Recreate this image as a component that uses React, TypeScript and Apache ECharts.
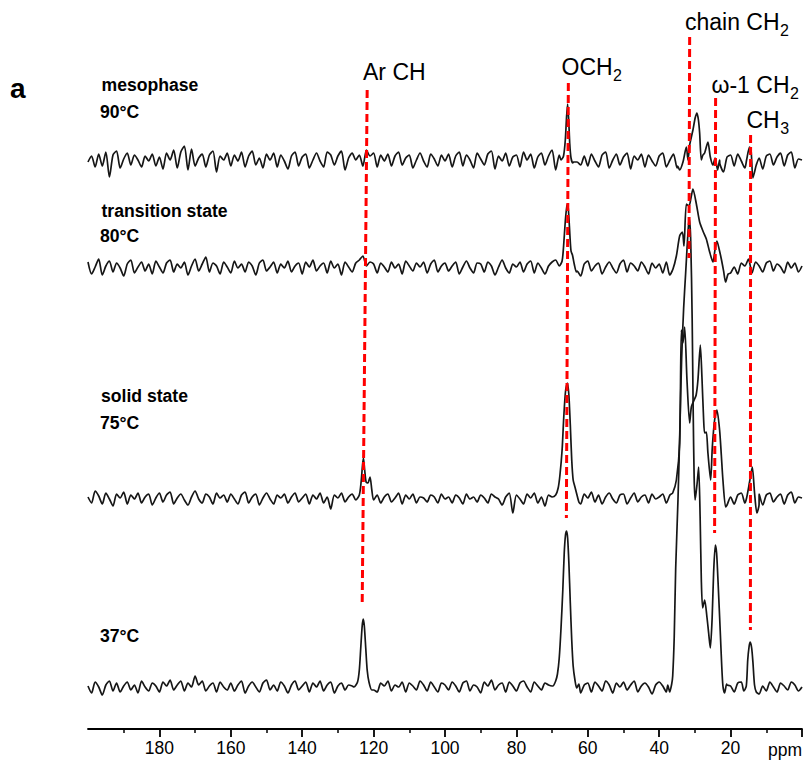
import React, { useEffect, useRef } from 'react';
import * as echarts from 'echarts';

const FONT = '"Liberation Sans", Arial, Helvetica, sans-serif';

// x axis (ppm, reversed)
const X_MIN = 0;
const X_MAX = 200;
const TICK_VALUES = [0, 20, 40, 60, 80, 100, 120, 140, 160, 180];
const LABEL_VALUES = [20, 40, 60, 80, 100, 120, 140, 160, 180];

// vertical offsets of the stacked spectra (arbitrary intensity units)
const TRACE_NAMES = ['90°C', '80°C', '75°C', '37°C'];
const TRACE_OFFSETS = [567, 460, 229, 41];

// baseline noise, one value per ppm from 200 down to 0
const NOISE_90 = [
  0, 6, -5, 8, -4, 10, -15, 7, 11, -6, 3, 9, -3, 7, 2, -5, 6, 1, 8, -4,
  5, -7, 9, 2, 12, -6, 10, 16, -8, 13, -4, 4, 8, -5, 7, 11, -10, 6, 2, 9,
  -4, 7, 1, 10, -5, 6, 11, -3, 4, -6, 8, 2, 9, -5, 7, 1, -7, 6, 10, -4,
  5, 8, -6, 2, 9, 1, -5, 10, 7, -3, 6, 11, -8, 4, 9, 2, 7, -4, 12, 6,
  9, -5, 7, 1, 8, -4, 6, 10, -3, 4, 7, -6, 2, 9, 1, -5, 8, 3, -4, 7,
  1, 8, -5, 6, 10, -4, 7, 2, -6, 9, 3, -3, 8, 11, -7, 6, 1, 9, -4, 5,
  7, -5, 10, 2, 8, -6, 5, 9, -3, 6, 12, -8, 7, 2, 4, 0, 0, 0, -3, 6,
  -4, 8, 1, -5, 7, 10, -6, 2, 8, -3, 5, 9, -7, 6, 2, 8, -5, 7, 1, -4,
  6, 9, -5, 2, 8, -6, 0, 0, 0, 0, 0, 0, 0, 0, 0, 0, 0, -2, -10, 5,
  7, -4, 8, 1, -6, 0, 0, 0, 4, -7, 6, 8, -3, 5, 9, -4, 7, 10, -6, 3,
  2,
];
const NOISE_80 = [
  7, -5, 2, 10, -6, 3, 8, -3, 6, 1, -7, 5, 9, -4, 2, 7, -2, 5, -5, 8,
  2, -4, 6, 9, -3, 5, 1, 7, -6, 3, 10, -2, 5, 12, -3, 6, 3, -5, 7, 2,
  -4, 8, 1, 5, -3, 7, 3, -6, 6, 9, -2, 2, 7, -4, 5, 1, 8, -3, 3, 6,
  -5, 7, 2, 9, -2, 3, 6, -4, 8, 1, 5, -6, 7, 2, -3, 6, 9, 13, 3, 7,
  5, -4, 6, 2, -3, 7, 1, 5, -5, 8, 3, -2, 6, 2, 7, -4, 5, 9, -3, 3,
  6, -2, 3, 7, -5, 2, 8, 1, -4, 6, 5, -3, 7, 3, -6, 2, 9, 1, -4, 5,
  2, 7, -3, 5, 8, -4, 6, 1, -5, 3, 7, 9, 0, 0, 0, 0, 0, -2, -7, 5,
  8, -2, 3, 6, -5, 2, 7, 1, -4, 5, 9, -3, 6, 3, -2, 7, 2, -5, 6, 1,
  5, -4, 7, 0, 0, 0, 0, 0, 0, 0, 0, 0, 0, 0, 0, 0, 0, 0, 0, 0,
  -4, 2, -5, 6, 3, 10, -4, 7, 3, -3, 6, 8, -2, 5, 2, -4, 7, 1, 6, -3,
  3,
];
const NOISE_75 = [
  3, -3, 9, 4, -4, 7, 1, -6, 6, 2, 8, -4, 5, 1, 7, -3, 3, 6, -5, 2,
  7, -2, 5, 8, -4, 2, 6, 0, -5, 3, 9, 1, -3, 6, 3, -4, 7, 2, 5, -2,
  6, 1, -4, 5, 8, -3, 3, 6, -5, 2, 7, 1, -4, 5, 2, 6, -3, 3, 7, -2,
  2, 6, -4, 5, 1, 7, -3, 3, -9, 5, 2, 7, -2, 3, 6, 0, 0, 0, 0, 0,
  0, 5, -3, 3, 6, -2, 2, 7, -4, 5, 1, 6, -3, 3, 2, -2, 5, 3, -3, 6,
  1, 3, -3, 5, 2, -4, 6, 1, 3, -2, 5, 2, -3, 6, 3, 1, -5, 3, 7, -13,
  5, 1, -4, 6, 2, 7, -3, 3, -6, 5, 3, 0, 0, 0, 0, 0, 0, 0, -4, 6,
  2, 8, -2, 5, -4, 3, 7, 1, -3, 5, 6, -4, 2, 7, -2, 3, 5, -3, 6, 1,
  3, 6, -3, 5, 0, 0, 0, 0, 0, 0, 0, 0, 0, 0, 0, 0, 0, 0, 0, -5,
  3, -4, 5, 7, -3, 0, 0, 0, 6, -5, 5, 7, -2, 3, 6, -4, 5, 8, -3, 3,
  2,
];
const NOISE_37 = [
  2, -5, 6, 1, -7, 3, 7, -3, 5, -4, 2, 6, -2, 3, -5, 7, 1, -3, 5, 2,
  -4, 6, 2, 8, -2, 3, 7, -3, 5, 1, 12, 3, 7, -3, 2, 5, -4, 6, 1, -2,
  5, -3, 3, 7, -5, 2, 6, 1, -4, 5, 8, -2, 3, -3, 6, 2, -5, 3, 7, -2,
  2, 6, -4, 5, 1, 7, -3, 3, 6, -5, 2, 5, -2, 3, 2, 0, 0, 0, 0, 0,
  -2, -4, 5, 2, 7, -3, 3, 1, 6, -4, 5, 2, -2, 7, 3, -3, 6, 1, -4, 5,
  3, -2, 6, 2, -4, 5, 7, -3, 3, 1, -5, 6, 2, 8, -2, 3, 5, -4, 6, 2,
  -3, 5, 7, 1, -4, 6, 2, -2, 5, 3, 2, 0, 0, 0, 0, 0, 0, 0, -5, 3,
  5, -4, 6, 2, -3, 7, 3, -5, 5, 1, 6, -2, 3, 7, -4, 2, 5, 1, -6, 3,
  6, 2, -4, 0, 0, 0, 0, 0, 0, 0, 0, 0, 0, 0, 0, 0, 0, 0, 0, 3,
  2, -4, 5, 6, 0, 0, 0, 0, -6, 2, -3, 6, 1, -4, 5, 2, -2, 6, 3, -3,
  1,
];

// resonance segments [ppm, intensity]
const PEAKS_90 = [
  [[67.5, 2], [66.8, 6], [66.3, 22], [65.95, 45], [65.65, 58], [65.35, 42], [65.05, 18], [64.7, 4], [64.2, -1]],
  [[34.83, -4], [34.27, -8], [33.34, 0], [32.39, 15], [31.94, 2], [31.47, 17], [30.55, 32], [29.93, 44], [29.43, 49],
   [29.01, 42], [28.67, 29], [28.2, 2], [27.75, 7], [27.27, 9], [26.35, 20], [25.68, 5], [24.95, -3], [24.34, 4],
   [23.64, -8], [23.08, 2]],
  [[15.52, 2], [14.69, 15], [14.27, 12], [13.76, -16], [13.29, -10], [12.81, -3]],
];
const PEAKS_80 = [
  [[68, 3], [67.2, 8], [66.8, 22], [66.3, 48], [65.9, 62], [65.6, 65], [65.3, 52], [65, 33], [64.7, 18], [64.3, 14],
   [63.8, 5], [63.2, -3]],
  [[37.06, -6], [36.14, 0], [35.19, 13], [34.27, 33], [33.51, 37], [33.06, 23], [32.39, 65], [31.66, 63], [31.05, 72],
   [30.55, 80], [29.59, 65], [28.67, 47], [27.75, 38], [26.8, 30], [25.87, 17], [24.95, 7], [24.34, 20], [23.83, 28],
   [23.22, 20], [22.6, 10], [21.96, -2], [21.4, -13], [20.7, -5]],
];
const PEAKS_75 = [
  [[125, 0], [124, 5], [123.5, 18], [123.1, 35], [122.85, 42], [122.5, 30], [122.1, 18], [121.6, 17], [121, 23],
   [120.5, 10], [120, 0]],
  [[69, 5], [68.3, 12], [67.8, 25], [67.2, 50], [66.7, 85], [66.2, 110], [65.7, 117], [65.3, 105], [64.9, 75],
   [64.5, 40], [64.1, 20], [63.6, 13], [63.1, 6], [62.5, -2]],
  [[36.22, 7], [35.19, 20], [34.27, 57], [33.79, 170], [33.34, 157], [32.87, 173], [32.22, 120], [31.47, 77],
   [30.99, 93], [30.21, 100], [29.65, 105], [29.15, 120], [28.48, 155], [28.03, 123], [27.55, 80], [27.27, 67],
   [26.8, 68], [26.35, 47], [25.59, 20], [25.12, 53], [24.48, 80], [23.83, 90], [23.08, 70], [22.6, 45],
   [22.15, 20], [21.4, -7]],
  [[15.52, 2], [14.69, 18], [13.93, 33], [13.29, 7], [12.64, -13], [12.03, -5]],
];
const PEAKS_37 = [
  [[125.5, 1], [124.5, 6], [124, 18], [123.6, 40], [123.2, 62], [122.9, 69], [122.6, 62], [122.2, 40], [121.8, 18],
   [121.3, 6], [120.5, -2]],
  [[69.8, 2], [69, 7], [68.5, 14], [68, 30], [67.5, 60], [67, 98], [66.6, 135], [66.25, 153], [65.95, 157],
   [65.65, 150], [65.3, 125], [64.9, 85], [64.5, 48], [64.1, 22], [63.6, 8], [63.1, 0], [62.5, 4]],
  [[37.6, 3], [37.06, -4], [36.5, 4], [36.22, 12], [35.8, 50], [35.38, 120], [34.74, 188], [34.27, 250],
   [33.71, 330], [33.15, 380], [32.59, 415], [32.03, 450], [31.61, 470], [31.19, 450], [30.77, 370], [30.49, 280],
   [30.21, 210], [29.93, 188], [29.37, 205], [28.95, 221], [28.53, 170], [28.2, 108], [27.83, 80], [27.27, 88],
   [26.63, 71], [26.15, 55], [25.68, 40], [25.17, 70], [24.76, 115], [24.28, 143], [23.92, 135], [23.5, 105],
   [22.88, 55], [22.52, 25], [22.15, 2], [21.68, -5], [21.12, 4]],
  [[16.3, -3], [15.6, 2], [15.2, 28], [14.8, 42], [14.5, 46], [14.1, 40], [13.75, 26], [13.3, 3], [12.8, -4]],
];

// assignment guide lines: [ppm, intensity] at the top and at the bottom
const GUIDE_NAMES = ['Ar CH', 'OCH2', 'chain CH2', 'ω-1 CH2', 'CH3'];
const GUIDE_TOP = [[121.8, 639], [65.45, 646], [31.47, 692], [24.2, 631], [14.4, 594]];
const GUIDE_BOTTOM = [[123.2, 124], [66.0, 211], [31.66, 471], [24.48, 196], [14.45, 99]];

// annotation labels: main text and subscript
const ANNOT_MAIN = ['Ar CH', 'OCH', 'chain CH', 'ω-1 CH', 'CH'];
const ANNOT_SUB = ['', '2', '2', '2', '3'];

const NOISE = [NOISE_90, NOISE_80, NOISE_75, NOISE_37];
const PEAKS = [PEAKS_90, PEAKS_80, PEAKS_75, PEAKS_37];

function buildTrace(noise: number[], peaks: number[][][], offset: number): number[][] {
  const pts: number[][] = [];
  noise.forEach((v, i) => {
    const ppm = X_MAX - i;
    const inside = peaks.some((seg) => {
      const a = seg[0][0];
      const b = seg[seg.length - 1][0];
      return ppm <= Math.max(a, b) && ppm >= Math.min(a, b);
    });
    if (!inside) pts.push([ppm, offset + v]);
  });
  peaks.forEach((seg) => seg.forEach(([p, v]) => pts.push([p, offset + v])));
  pts.sort((a, b) => b[0] - a[0]);
  return pts;
}

function measure(text: string, font: string): number {
  const c = document.createElement('canvas').getContext('2d');
  if (!c) return text.length * 12;
  c.font = font;
  return c.measureText(text).width;
}

function bold(text: string, x: number, y: number) {
  return {
    type: 'text', x, y, silent: true,
    style: { text, fill: '#000', font: `bold 17.6px ${FONT}`, align: 'left', verticalAlign: 'middle' },
  };
}

const MAIN_SIZE = 23;
const SUB_SIZE = 16;
// left edge and main-text middle for each annotation label (pixels)
const ANNOT_POS = [[363, 72], [561.5, 66.5], [685, 22], [711.5, 85], [746.5, 120]];

export default function App() {
  const ref = useRef<HTMLDivElement>(null);
  useEffect(() => {
    if (!ref.current) return;
    const chart = echarts.init(ref.current, undefined, { renderer: 'svg' });

    const traceSeries = TRACE_NAMES.map((name, k) => ({
      name,
      type: 'line',
      data: buildTrace(NOISE[k], PEAKS[k], TRACE_OFFSETS[k]),
      showSymbol: false,
      symbol: 'none',
      smooth: 0.25,
      silent: true,
      z: 2,
      lineStyle: { color: '#161616', width: 1.7 },
    }));
    const guideSeries = GUIDE_NAMES.map((name, k) => ({
      name,
      type: 'line',
      data: [GUIDE_TOP[k], GUIDE_BOTTOM[k]],
      showSymbol: false,
      symbol: 'none',
      silent: true,
      z: 3,
      lineStyle: { color: '#ff0000', width: 3, type: [8, 4] },
    }));

    const mainFont = `${MAIN_SIZE}px ${FONT}`;
    const subFont = `${SUB_SIZE}px ${FONT}`;
    const annot: any[] = [];
    ANNOT_MAIN.forEach((t, k) => {
      const [x, y] = ANNOT_POS[k];
      annot.push({ type: 'text', x, y, silent: true, style: { text: t, fill: '#000', font: mainFont, align: 'left', verticalAlign: 'middle' } });
      if (ANNOT_SUB[k]) {
        const w = measure(t, mainFont);
        annot.push({ type: 'text', x: x + w + 0.5, y: y + 8.5, silent: true, style: { text: ANNOT_SUB[k], fill: '#000', font: subFont, align: 'left', verticalAlign: 'middle' } });
      }
    });

    chart.setOption({
      animation: false,
      backgroundColor: '#ffffff',
      grid: { left: 88, right: 4, top: 0, bottom: 32, containLabel: false, outerBoundsMode: 'none' },
      xAxis: {
        type: 'value',
        min: X_MIN,
        max: X_MAX,
        interval: 20,
        inverse: true,
        axisLine: { show: true, onZero: false, lineStyle: { color: '#000', width: 1.8 } },
        axisTick: { show: true, length: 8, customValues: TICK_VALUES, lineStyle: { color: '#000', width: 1.8 } },
        minorTick: { show: true, splitNumber: 2, length: 4, lineStyle: { color: '#000', width: 1.5 } },
        axisLabel: {
          customValues: LABEL_VALUES,
          color: '#000',
          fontSize: 17.5,
          fontFamily: FONT,
          margin: 10,
        },
        splitLine: { show: false },
        minorSplitLine: { show: false },
      },
      yAxis: { type: 'value', min: 0, max: 729, show: false, splitLine: { show: false } },
      series: [...traceSeries, ...guideSeries],
      graphic: [
        { type: 'text', x: 10, y: 88, silent: true, style: { text: 'a', fill: '#000', font: `bold 28px ${FONT}`, align: 'left', verticalAlign: 'middle' } },
        bold('mesophase', 101.5, 85),
        bold('90°C', 100, 112.3),
        bold('transition state', 101.5, 210.7),
        bold('80°C', 100, 235.7),
        bold('solid state', 101, 396),
        bold('75°C', 100, 423),
        bold('37°C', 100, 636),
        ...annot,
        { type: 'text', x: 768, y: 750, silent: true, style: { text: 'ppm', fill: '#000', font: `17.5px ${FONT}`, align: 'left', verticalAlign: 'middle' } },
      ],
    });
    return () => chart.dispose();
  }, []);
  return (
    <div
      ref={ref}
      style={{ position: 'absolute', left: 0, top: 0, width: 806, height: 761, background: '#fff' }}
    />
  );
}
